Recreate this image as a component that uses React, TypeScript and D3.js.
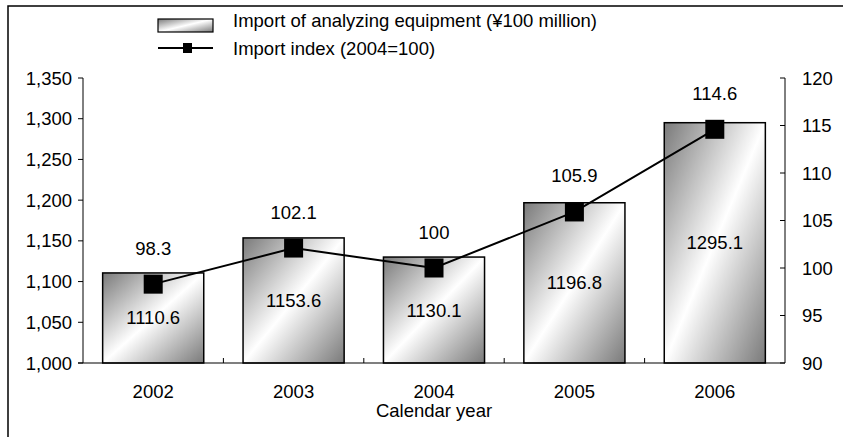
import React from "react";
import * as d3 from "d3";

const years = ["2002", "2003", "2004", "2005", "2006"];
const importValues = [1110.6, 1153.6, 1130.1, 1196.8, 1295.1];
const indexValues = [98.3, 102.1, 100, 105.9, 114.6];
const leftTicks = [1000, 1050, 1100, 1150, 1200, 1250, 1300, 1350];
const rightTicks = [90, 95, 100, 105, 110, 115, 120];
const barLegend = "Import of analyzing equipment (¥100 million)";
const lineLegend = "Import index (2004=100)";
const xTitle = "Calendar year";

const W = 843;
const H = 437;
const FONT = "'Liberation Sans', Arial, sans-serif";
const FS = 18.5;

export default function App() {
  const x = d3.scaleBand<string>().domain(years).range([83, 785]).paddingInner(0.28).paddingOuter(0.14);
  const yL = d3.scaleLinear().domain([1000, 1350]).range([363, 78]);
  const yR = d3.scaleLinear().domain([90, 120]).range([363, 78]);
  const fmt = d3.format(",");
  const line = d3
    .line<number>()
    .x((_, i) => (x(years[i]) as number) + x.bandwidth() / 2)
    .y((d) => yR(d));
  const step = x.step();
  const x0 = 83;
  const boundaries = d3.range(1, years.length).map((i) => x0 + i * step);
  const base = yL(1000);
  return (
    <svg width={W} height={H} style={{ position: "absolute", left: 0, top: 0, background: "#fff" }} fontFamily={FONT}>
      <defs>
        <linearGradient id="barGrad" x1="0" y1="0" x2="1" y2="1">
          <stop offset="0" stopColor="#7a7a7a" />
          <stop offset="0.5" stopColor="#ffffff" />
          <stop offset="1" stopColor="#7a7a7a" />
        </linearGradient>
      </defs>
      <rect x={8} y={6} width={W + 20} height={H + 20} fill="#fff" stroke="#000" strokeWidth={1.5} />
      {/* legend */}
      <rect x={158} y={19} width={55} height={13} fill="url(#barGrad)" stroke="#000" strokeWidth={1.2} />
      <text x={233} y={20} fontSize={FS} dominantBaseline="central">{barLegend}</text>
      <line x1={158} x2={213} y1={48} y2={48} stroke="#000" strokeWidth={2} />
      <rect x={183} y={43} width={9} height={10} fill="#000" />
      <text x={233} y={48} fontSize={FS} dominantBaseline="central">{lineLegend}</text>
      {/* bars */}
      {importValues.map((v, i) => (
        <rect
          key={"b" + i}
          x={x(years[i]) as number}
          y={yL(v)}
          width={x.bandwidth()}
          height={base - yL(v)}
          fill="url(#barGrad)"
          stroke="#000"
          strokeWidth={1.5}
        />
      ))}
      {importValues.map((v, i) => (
        <text
          key={"bl" + i}
          x={(x(years[i]) as number) + x.bandwidth() / 2}
          y={(yL(v) + base) / 2}
          fontSize={FS}
          textAnchor="middle"
          dominantBaseline="central"
        >
          {v.toFixed(1)}
        </text>
      ))}
      {/* axes */}
      <line x1={83} x2={83} y1={78} y2={base} stroke="#000" strokeWidth={1} />
      <line x1={785} x2={785} y1={78} y2={base} stroke="#000" strokeWidth={1} />
      <line x1={78} x2={785} y1={base} y2={base} stroke="#000" strokeWidth={1.2} />
      {leftTicks.map((t) => (
        <g key={"lt" + t}>
          <line x1={78} x2={83} y1={yL(t)} y2={yL(t)} stroke="#000" />
          <text x={72} y={yL(t)} fontSize={FS} textAnchor="end" dominantBaseline="central">{fmt(t)}</text>
        </g>
      ))}
      {rightTicks.map((t) => (
        <g key={"rt" + t}>
          <line x1={780} x2={785} y1={yR(t)} y2={yR(t)} stroke="#000" />
          <text x={802} y={yR(t)} fontSize={FS} textAnchor="start" dominantBaseline="central">{t}</text>
        </g>
      ))}
      {boundaries.map((b, i) => (
        <line key={"xt" + i} x1={b} x2={b} y1={base - 5} y2={base} stroke="#000" />
      ))}
      {years.map((yr) => (
        <text key={"xl" + yr} x={(x(yr) as number) + x.bandwidth() / 2} y={391} fontSize={FS} textAnchor="middle" dominantBaseline="central">
          {yr}
        </text>
      ))}
      <text x={(83 + 785) / 2} y={410} fontSize={FS} textAnchor="middle" dominantBaseline="central">{xTitle}</text>
      {/* line */}
      <path d={line(indexValues) || ""} fill="none" stroke="#000" strokeWidth={2} />
      {indexValues.map((v, i) => {
        const cx = (x(years[i]) as number) + x.bandwidth() / 2;
        return (
          <g key={"p" + i}>
            <rect x={cx - 9.5} y={yR(v) - 9.5} width={19} height={19} fill="#000" />
            <text x={cx} y={yR(v) - 36} fontSize={FS} textAnchor="middle" dominantBaseline="central">{String(v)}</text>
          </g>
        );
      })}
    </svg>
  );
}
